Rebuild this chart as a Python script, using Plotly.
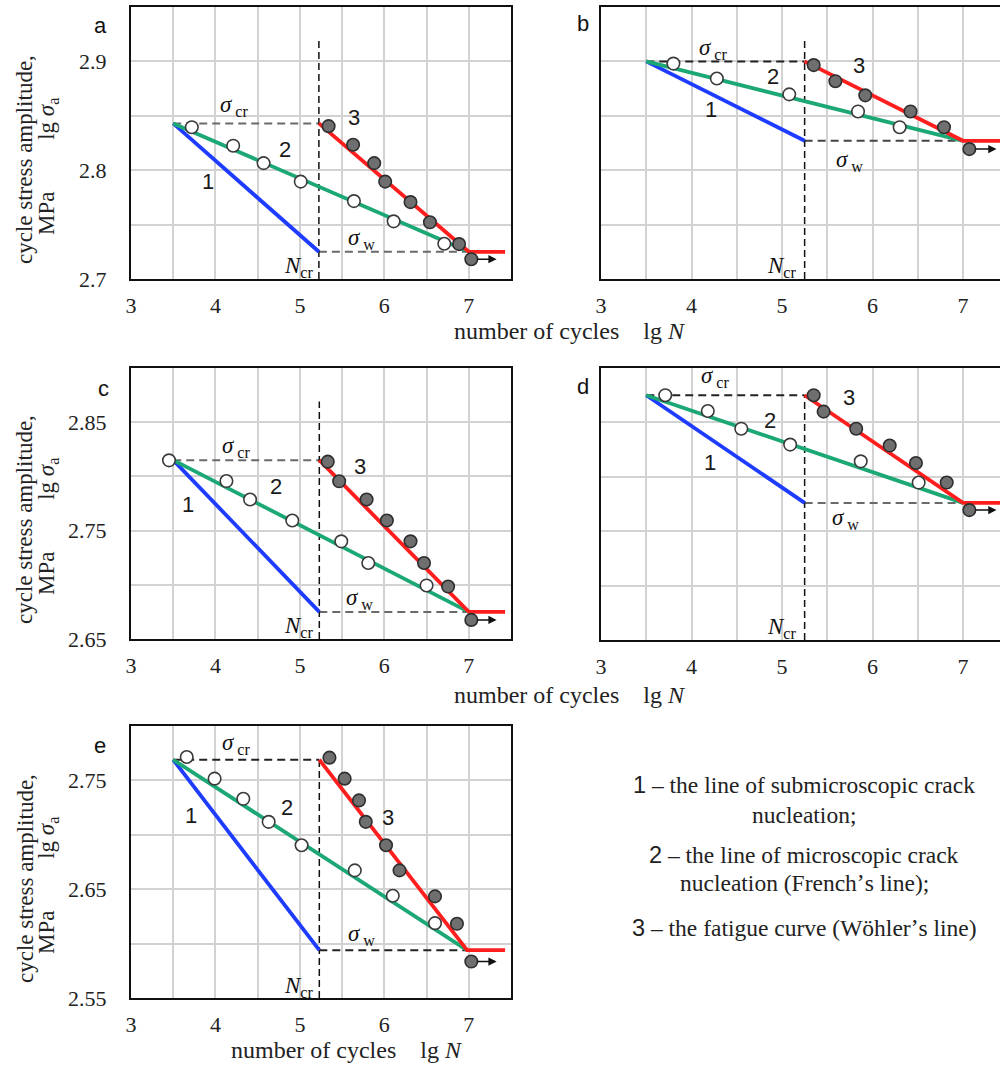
import plotly.graph_objects as go

W, H = 1000, 1065

# ---------------- data ----------------
# panel a
a_lgN = [3.5, 5.225, 7.0, 7.43]          # start, N_cr, N at sigma_w, end of runout
a_sig = [2.843, 2.725]                    # sigma_cr, sigma_w
a_ncr_top = 2.922
a_open_x = [3.72, 4.21, 4.57, 5.01, 5.64, 6.11, 6.71]
a_open_y = [2.8395, 2.8225, 2.8065, 2.7895, 2.7716, 2.7530, 2.7324]
a_fill_x = [5.34, 5.63, 5.88, 6.01, 6.31, 6.54, 6.885, 7.03]
a_fill_y = [2.8405, 2.8234, 2.8065, 2.7895, 2.7707, 2.7521, 2.7321, 2.7182]

# panel b
b_lgN = [3.5, 5.25, 7.0, 7.5]
b_sig = [2.900, 2.827]
b_ncr_top = 2.921
b_open_x = [3.80, 4.28, 5.08, 5.84, 6.30]
b_open_y = [2.898, 2.8843, 2.8697, 2.854, 2.8395]
b_fill_x = [5.35, 5.59, 5.92, 6.42, 6.79, 7.07]
b_fill_y = [2.8966, 2.8818, 2.8688, 2.854, 2.8395, 2.8194]

# panel c
c_lgN = [3.5, 5.23, 7.0, 7.43]
c_sig = [2.815, 2.675]
c_ncr_top = 2.869
c_open_x = [3.45, 4.13, 4.41, 4.91, 5.49, 5.81, 6.50]
c_open_y = [2.8148, 2.7957, 2.7787, 2.7593, 2.7401, 2.7201, 2.6994]
c_fill_x = [5.33, 5.465, 5.79, 6.03, 6.31, 6.47, 6.755, 7.03]
c_fill_y = [2.8136, 2.7955, 2.7787, 2.7593, 2.7401, 2.7201, 2.6984, 2.6676]

# panel d
d_lgN = [3.5, 5.25, 7.0, 7.5]
d_sig = [2.875, 2.776]
d_ncr_top = 2.875
d_open_x = [3.71, 4.18, 4.55, 5.09, 5.87, 6.51]
d_open_y = [2.875, 2.8605, 2.8442, 2.8296, 2.8142, 2.7947]
d_fill_x = [5.35, 5.46, 5.82, 6.19, 6.48, 6.82, 7.07]
d_fill_y = [2.875, 2.8599, 2.8442, 2.8287, 2.8127, 2.7947, 2.7694]

# panel e
e_lgN = [3.5, 5.23, 6.98, 7.43]
e_sig = [2.769, 2.594]
e_ncr_top = 2.769
e_open_x = [3.66, 3.99, 4.33, 4.63, 5.02, 5.65, 6.10, 6.60]
e_open_y = [2.7715, 2.7516, 2.7331, 2.7119, 2.6904, 2.6673, 2.644, 2.6188]
e_fill_x = [5.35, 5.53, 5.70, 5.78, 6.02, 6.18, 6.60, 6.86, 7.03]
e_fill_y = [2.7709, 2.7516, 2.7316, 2.7119, 2.6904, 2.6673, 2.6434, 2.6182, 2.5835]

x_ticks = [3, 4, 5, 6, 7]
a_y_ticks = [2.7, 2.8, 2.9]
c_y_ticks = [2.65, 2.75, 2.85]
e_y_ticks = [2.55, 2.65, 2.75]

legend_lines = [
    ("1", "the line of submicroscopic crack"),
    ("", "nucleation;"),
    ("2", "the line of microscopic crack"),
    ("", "nucleation (French\u02bcs line);"),
    ("3", "the fatigue curve (W\u00f6hler\u02bcs line)"),
]

# ---------------- layout / styling ----------------
SERIF = "Liberation Serif, Times New Roman, serif"
SANS = "Liberation Sans, Arial, sans-serif"
BLUE, GREEN, RED = "#1e3cff", "#1ba874", "#ff1e1e"
GRAYD, BLACKD = "#6a6a6a", "#222222"

panels = [
    dict(tag="a", lgN=a_lgN, sig=a_sig, top=a_ncr_top, ox=a_open_x, oy=a_open_y, fx=a_fill_x, fy=a_fill_y,
         dx=(131, 511), dy=(7, 279), xr=[3, 7.5], yr=[2.7, 2.95], yt=a_y_ticks, dc=(GRAYD, GRAYD),
         lab=(100, 25), n1=(3.91, 2.790), n2=(4.82, 2.819), n3=(5.64, 2.848),
         scr=(4.22, 2.859), sw=(5.73, 2.737), ncr=(4.98, 2.711)),
    dict(tag="b", lgN=b_lgN, sig=b_sig, top=b_ncr_top, ox=b_open_x, oy=b_open_y, fx=b_fill_x, fy=b_fill_y,
         dx=(601, 1000), dy=(7, 279), xr=[3, 3 + 399 / 90.5], yr=[2.7, 2.95], yt=None, dc=(BLACKD, "#444"),
         lab=(583, 24), n1=(4.22, 2.856), n2=(4.90, 2.886), n3=(5.85, 2.8966),
         scr=(4.24, 2.9115), sw=(5.75, 2.8086), ncr=(4.997, 2.711)),
    dict(tag="c", lgN=c_lgN, sig=c_sig, top=c_ncr_top, ox=c_open_x, oy=c_open_y, fx=c_fill_x, fy=c_fill_y,
         dx=(131, 511), dy=(368, 639), xr=[3, 7.5], yr=[2.65, 2.90], yt=c_y_ticks, dc=(GRAYD, GRAYD),
         lab=(103, 388), n1=(3.67, 2.774), n2=(4.716, 2.791), n3=(5.71, 2.809),
         scr=(4.25, 2.8275), sw=(5.71, 2.6868), ncr=(4.98, 2.661)),
    dict(tag="d", lgN=d_lgN, sig=d_sig, top=d_ncr_top, ox=d_open_x, oy=d_open_y, fx=d_fill_x, fy=d_fill_y,
         dx=(601, 1000), dy=(368, 640), xr=[3, 3 + 399 / 90.5], yr=[2.65, 2.90], yt=None, dc=(BLACKD, GRAYD),
         lab=(583, 387), n1=(4.204, 2.8133), n2=(4.867, 2.852), n3=(5.74, 2.873),
         scr=(4.26, 2.8914), sw=(5.70, 2.7608), ncr=(4.997, 2.661)),
    dict(tag="e", lgN=e_lgN, sig=e_sig, top=e_ncr_top, ox=e_open_x, oy=e_open_y, fx=e_fill_x, fy=e_fill_y,
         dx=(131, 511), dy=(726, 998), xr=[3, 7.5], yr=[2.55, 2.80], yt=e_y_ticks, dc=(BLACKD, BLACKD),
         lab=(100, 745), n1=(3.706, 2.7177), n2=(4.85, 2.7248), n3=(6.038, 2.7156),
         scr=(4.25, 2.7832), sw=(5.73, 2.608), ncr=(4.98, 2.5604)),
]

fig = go.Figure()
annotations = []
layout = dict(width=W, height=H, margin=dict(l=0, r=0, t=0, b=0, pad=0, autoexpand=False),
              paper_bgcolor="white", plot_bgcolor="white", showlegend=False)


def frange(a, b, step):
    out, v = [], a
    while v <= b + 1e-9:
        out.append(round(v, 4))
        v += step
    return out


def note(x, y, text, font, xref="paper", yref="paper", **kw):
    d = dict(x=x, y=y, xref=xref, yref=yref, text=text, showarrow=False, font=font,
             xanchor="center", yanchor="middle")
    d.update(kw)
    annotations.append(d)


for i, p in enumerate(panels, start=1):
    xa = "x" if i == 1 else f"x{i}"
    ya = "y" if i == 1 else f"y{i}"
    xkey = "xaxis" if i == 1 else f"xaxis{i}"
    ykey = "yaxis" if i == 1 else f"yaxis{i}"

    xv = frange(3, 7.5, 0.5)
    xt = [str(int(v)) if (v in x_ticks) else "" for v in xv]
    yv = frange(p["yr"][0], p["yr"][1], 0.05)
    if p["yt"]:
        yt = [(f"{v:g}" if any(abs(v - t) < 1e-6 for t in p["yt"]) else "") for v in yv]
    else:
        yt = ["" for v in yv]

    layout[xkey] = dict(domain=[p["dx"][0] / W, p["dx"][1] / W], range=p["xr"], anchor=ya,
                        tickmode="array", tickvals=xv, ticktext=xt, automargin=False,
                        showgrid=True, gridcolor="#d2d2d2", gridwidth=1.5, zeroline=False,
                        showline=True, linecolor="#111", linewidth=2, mirror=True,
                        ticks="outside", ticklen=6, tickcolor="rgba(0,0,0,0)",
                        tickfont=dict(family=SERIF, size=22, color="#222"), fixedrange=True)
    layout[ykey] = dict(domain=[1 - p["dy"][1] / H, 1 - p["dy"][0] / H], range=p["yr"], anchor=xa,
                        tickmode="array", tickvals=yv, ticktext=yt, automargin=False,
                        showticklabels=bool(p["yt"]),
                        showgrid=True, gridcolor="#d2d2d2", gridwidth=1.5, zeroline=False,
                        showline=True, linecolor="#111", linewidth=2,
                        mirror=(p["dx"][1] < W),
                        ticks="outside", ticklen=18, tickcolor="rgba(0,0,0,0)",
                        tickfont=dict(family=SERIF, size=22, color="#222"), fixedrange=True)

    n0, ncr, nw, nmax = p["lgN"]
    scr, sw = p["sig"]

    # dashed reference lines
    fig.add_trace(go.Scatter(x=[n0, ncr], y=[scr, scr], mode="lines", xaxis=xa, yaxis=ya,
                             line=dict(color=p["dc"][0], width=2, dash="8px,5px"), hoverinfo="skip"))
    fig.add_trace(go.Scatter(x=[ncr, nw], y=[sw, sw], mode="lines", xaxis=xa, yaxis=ya,
                             line=dict(color=p["dc"][1], width=2, dash="8px,5px"), hoverinfo="skip"))
    fig.add_trace(go.Scatter(x=[ncr, ncr], y=[p["yr"][0], p["top"]], mode="lines", xaxis=xa, yaxis=ya,
                             line=dict(color="#111", width=1.5, dash="7px,4px"), hoverinfo="skip"))
    # lines 1, 2, 3
    fig.add_trace(go.Scatter(x=[n0, ncr], y=[scr, sw], mode="lines", xaxis=xa, yaxis=ya,
                             line=dict(color=BLUE, width=3.8)))
    fig.add_trace(go.Scatter(x=[n0, nw], y=[scr, sw], mode="lines", xaxis=xa, yaxis=ya,
                             line=dict(color=GREEN, width=3.8)))
    fig.add_trace(go.Scatter(x=[ncr, nw, nmax], y=[scr, sw, sw], mode="lines", xaxis=xa, yaxis=ya,
                             line=dict(color=RED, width=3.8)))
    # experimental points
    fig.add_trace(go.Scatter(x=p["ox"], y=p["oy"], mode="markers", xaxis=xa, yaxis=ya,
                             marker=dict(size=12.5, color="white", line=dict(color="#3a3a3a", width=1.6))))
    fig.add_trace(go.Scatter(x=p["fx"], y=p["fy"], mode="markers", xaxis=xa, yaxis=ya,
                             marker=dict(size=12.5, color="#6f6f6f", line=dict(color="#2e2e2e", width=1.6))))

    # run-out arrow
    rx, ry = p["fx"][-1], p["fy"][-1]
    annotations.append(dict(x=rx + 0.30, y=ry, ax=rx + 0.05, ay=ry, xref=xa, yref=ya, axref=xa, ayref=ya,
                            text="", showarrow=True, arrowhead=2, arrowsize=1.1, arrowwidth=1.5,
                            arrowcolor="#111"))

    # in-plot labels
    for key, txt in (("n1", "1"), ("n2", "2"), ("n3", "3")):
        note(p[key][0], p[key][1], txt, dict(family=SANS, size=22, color="#1a1a1a"), xref=xa, yref=ya)
    note(p["scr"][0], p["scr"][1], "<i>σ</i><sub> cr</sub>", dict(family=SERIF, size=23, color="#111"),
         xref=xa, yref=ya)
    note(p["sw"][0], p["sw"][1], "<i>σ</i><sub> w</sub>", dict(family=SERIF, size=23, color="#111"),
         xref=xa, yref=ya)
    note(p["ncr"][0], p["ncr"][1], "<i>N</i><sub>cr</sub>", dict(family=SERIF, size=23, color="#111"),
         xref=xa, yref=ya)
    # panel letter
    note(p["lab"][0] / W, 1 - p["lab"][1] / H, p["tag"], dict(family=SANS, size=22, color="#111"))

# axis titles (left column)
for cy in (160, 520, 879):
    note(25 / W, 1 - cy / H, "cycle stress amplitude,", dict(family=SERIF, size=23, color="#222"),
         textangle=-90)
    note(48 / W, 1 - (cy + 7) / H,
         "MPa\u00a0\u00a0\u00a0\u00a0\u00a0\u00a0\u00a0\u00a0\u00a0lg\u00a0<i>σ</i><sub>a</sub>",
         dict(family=SERIF, size=23, color="#222"), textangle=-90)

for cx, cy in ((570, 331), (570, 695), (347, 1050)):
    note(cx / W, 1 - cy / H, "number of cycles\u00a0\u00a0\u00a0\u00a0lg\u00a0<i>N</i>",
         dict(family=SERIF, size=24, color="#222"))

# legend text block
for (num, txt), cy in zip(legend_lines, (785, 815, 855, 883, 928)):
    if num:
        t = f"<span style='font-family:{SANS}'>{num}</span> \u2013 {txt}"
    else:
        t = txt
    note(804 / W, 1 - cy / H, t, dict(family=SERIF, size=23.5, color="#222"))

layout["annotations"] = annotations
fig.update_layout(**layout)
fig.write_html("out.html", config={"displayModeBar": False},
               post_script="document.body.style.margin='0px';document.body.style.overflow='hidden';")
